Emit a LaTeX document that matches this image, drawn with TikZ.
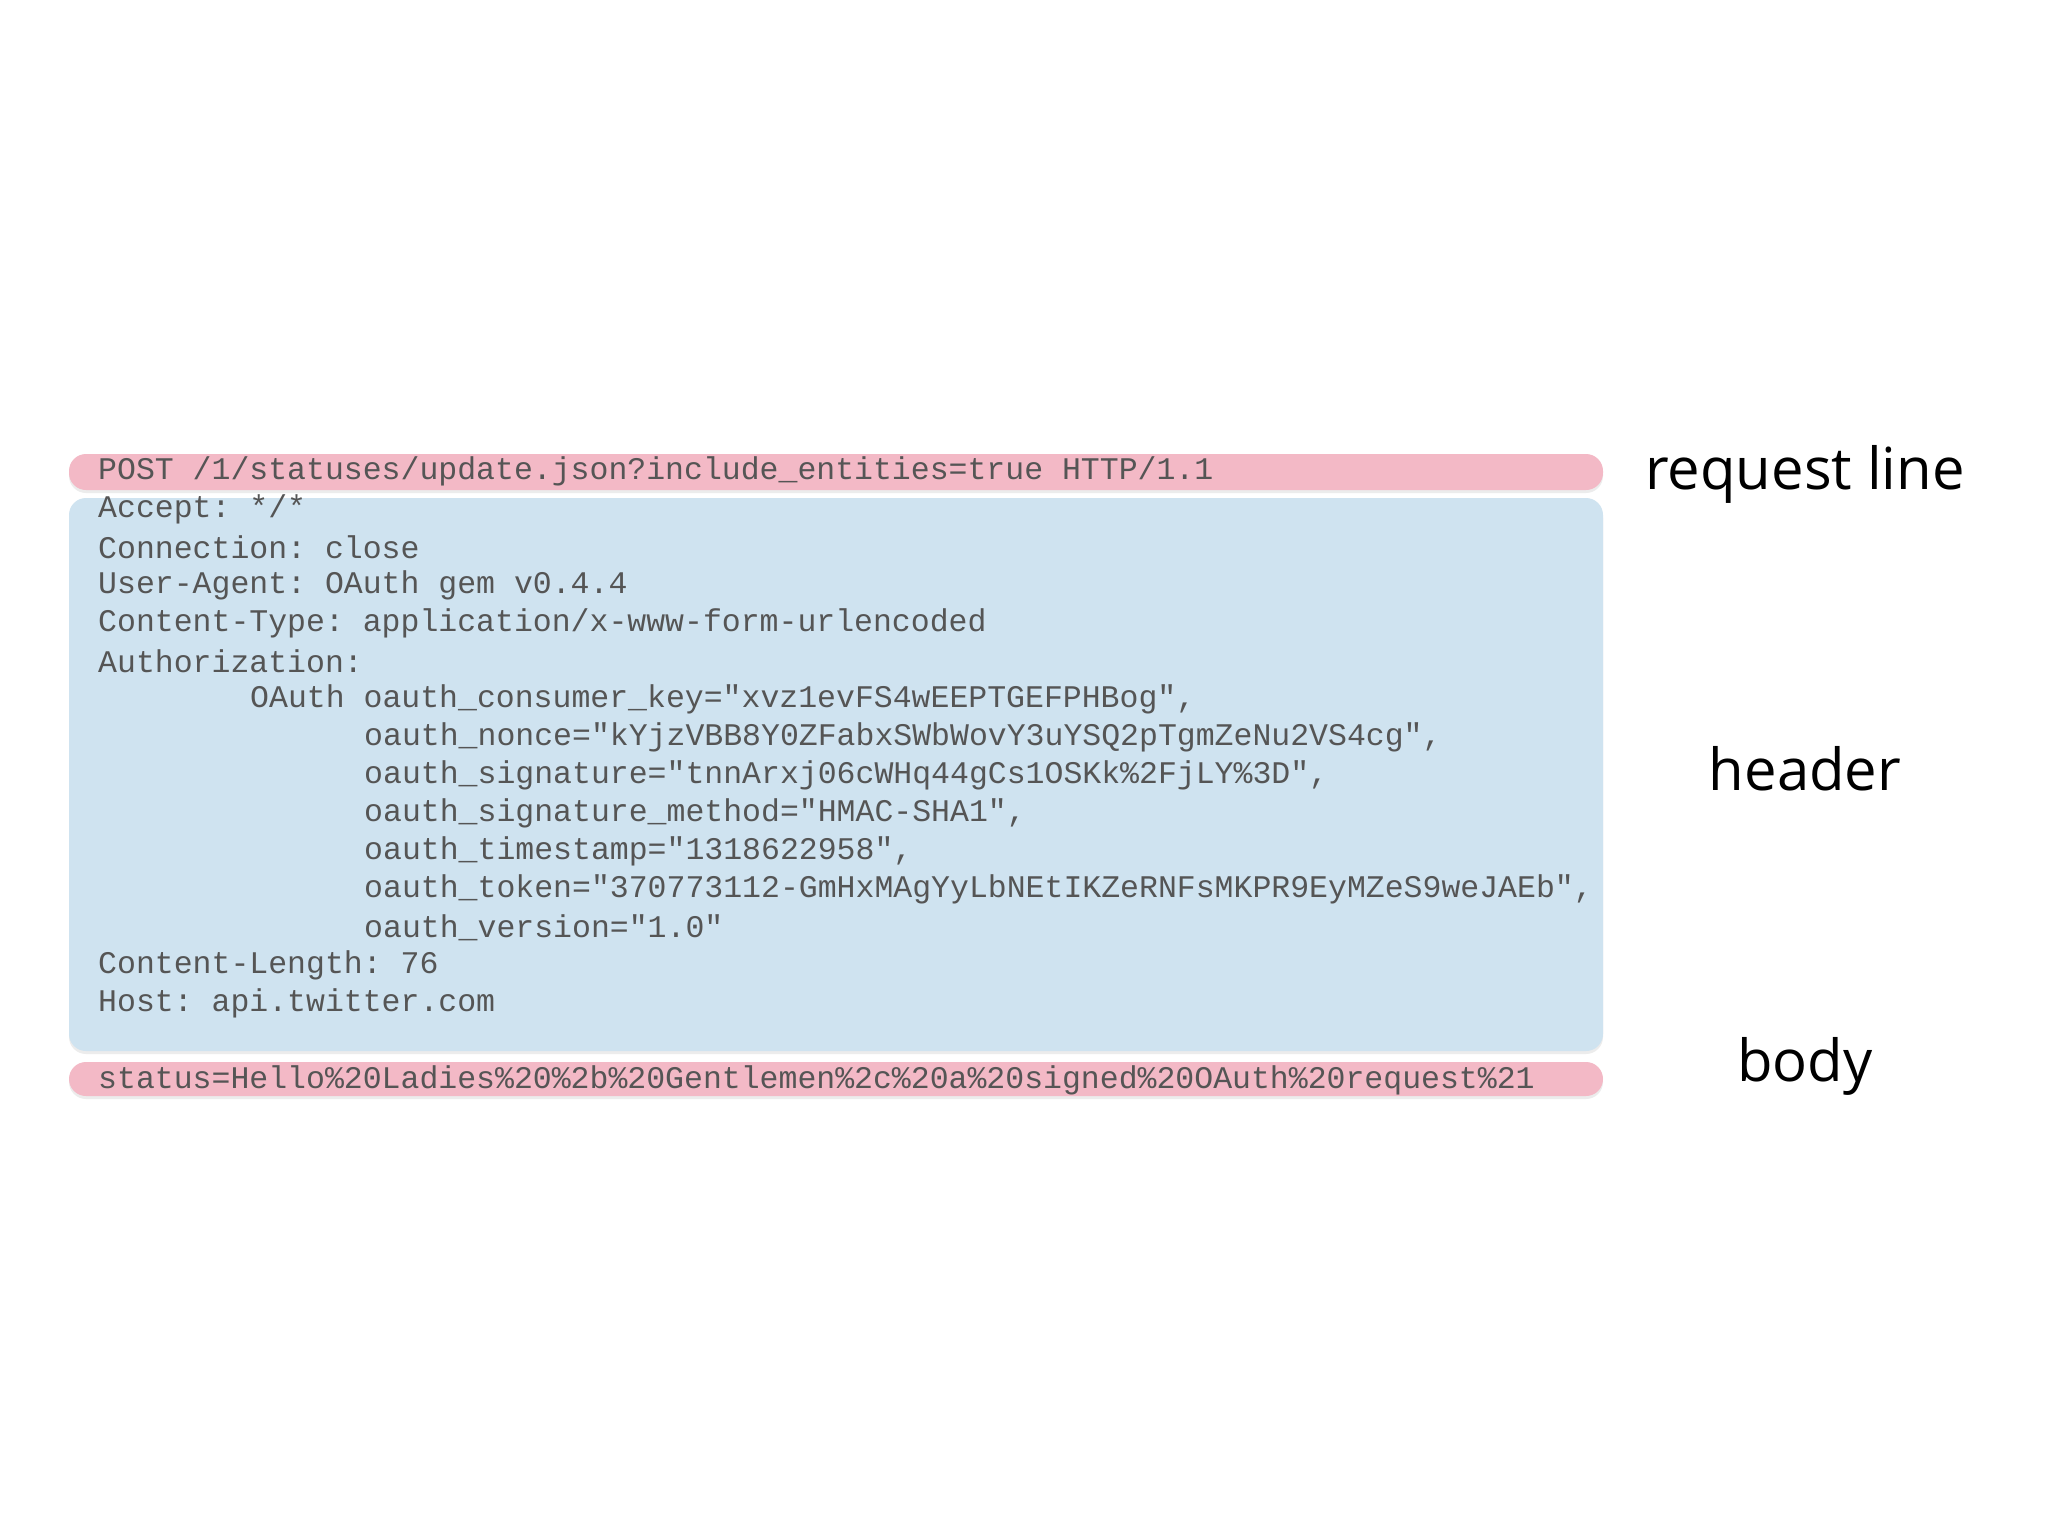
\documentclass[tikz,border=0pt]{standalone}
\usepackage{fontspec}
\setmonofont{Liberation Mono}
\newfontfamily\labfont{Open Sans}
\usetikzlibrary{shadows}
\definecolor{pinkbox}{HTML}{F3B9C6}
\definecolor{bluebox}{HTML}{CFE3F0}
\definecolor{codegray}{HTML}{555555}
\tikzset{
  band/.style={rounded corners=17pt, draw=none, drop shadow={shadow xshift=0pt, shadow yshift=-3pt, opacity=0.15}},
  code/.style={anchor=west, inner sep=0pt, text=codegray, font=\fontsize{31.5}{36}\ttfamily},
  lab/.style={anchor=center, inner sep=0pt, font=\labfont\fontsize{58}{64}\selectfont}
}
\begin{document}
\begin{tikzpicture}[x=1pt,y=-1pt]
\useasboundingbox (0,0) rectangle (2048,1536);
\fill[white] (0,0) rectangle (2048,1536);
\path[band, fill=pinkbox] (69,454) rectangle (1603,490);
\path[band, fill=bluebox] (69,498) rectangle (1603,1051);
\path[band, fill=pinkbox] (69,1062) rectangle (1603,1096);
\node[code] (l0) at (98,471.5) {POST /1/statuses/update.json?include\_entities=true HTTP/1.1};
\node[code] (l1) at (98,509.5) {Accept: */*};
\node[code] (l2) at (98,547.5) {Connection: close};
\node[code] (l3) at (98,585.5) {User-Agent: OAuth gem v0.4.4};
\node[code] (l4) at (98,623.5) {Content-Type: application/x-www-form-urlencoded};
\node[code] (l5) at (98,661.5) {Authorization:};
\node[code] (l6) at (250,699.5) {OAuth oauth\_consumer\_key="xvz1evFS4wEEPTGEFPHBog",};
\node[code] (l7) at (364,737.5) {oauth\_nonce="kYjzVBB8Y0ZFabxSWbWovY3uYSQ2pTgmZeNu2VS4cg",};
\node[code] (l8) at (364,775.5) {oauth\_signature="tnnArxj06cWHq44gCs1OSKk\%2FjLY\%3D",};
\node[code] (l9) at (364,813.5) {oauth\_signature\_method="HMAC-SHA1",};
\node[code] (l10) at (364,851.5) {oauth\_timestamp="1318622958",};
\node[code] (l11) at (364,889.5) {oauth\_token="370773112-GmHxMAgYyLbNEtIKZeRNFsMKPR9EyMZeS9weJAEb",};
\node[code] (l12) at (364,927.5) {oauth\_version="1.0"};
\node[code] (l13) at (98,965.5) {Content-Length: 76};
\node[code] (l14) at (98,1003.5) {Host: api.twitter.com};
\node[code] (l15) at (98,1080) {status=Hello\%20Ladies\%20\%2b\%20Gentlemen\%2c\%20a\%20signed\%20OAuth\%20request\%21};
\node[lab] (rl) at (1805,474) {request line};
\node[lab] (hd) at (1805,769) {header};
\node[lab] (bd) at (1805,1066) {body};
\end{tikzpicture}
\end{document}
